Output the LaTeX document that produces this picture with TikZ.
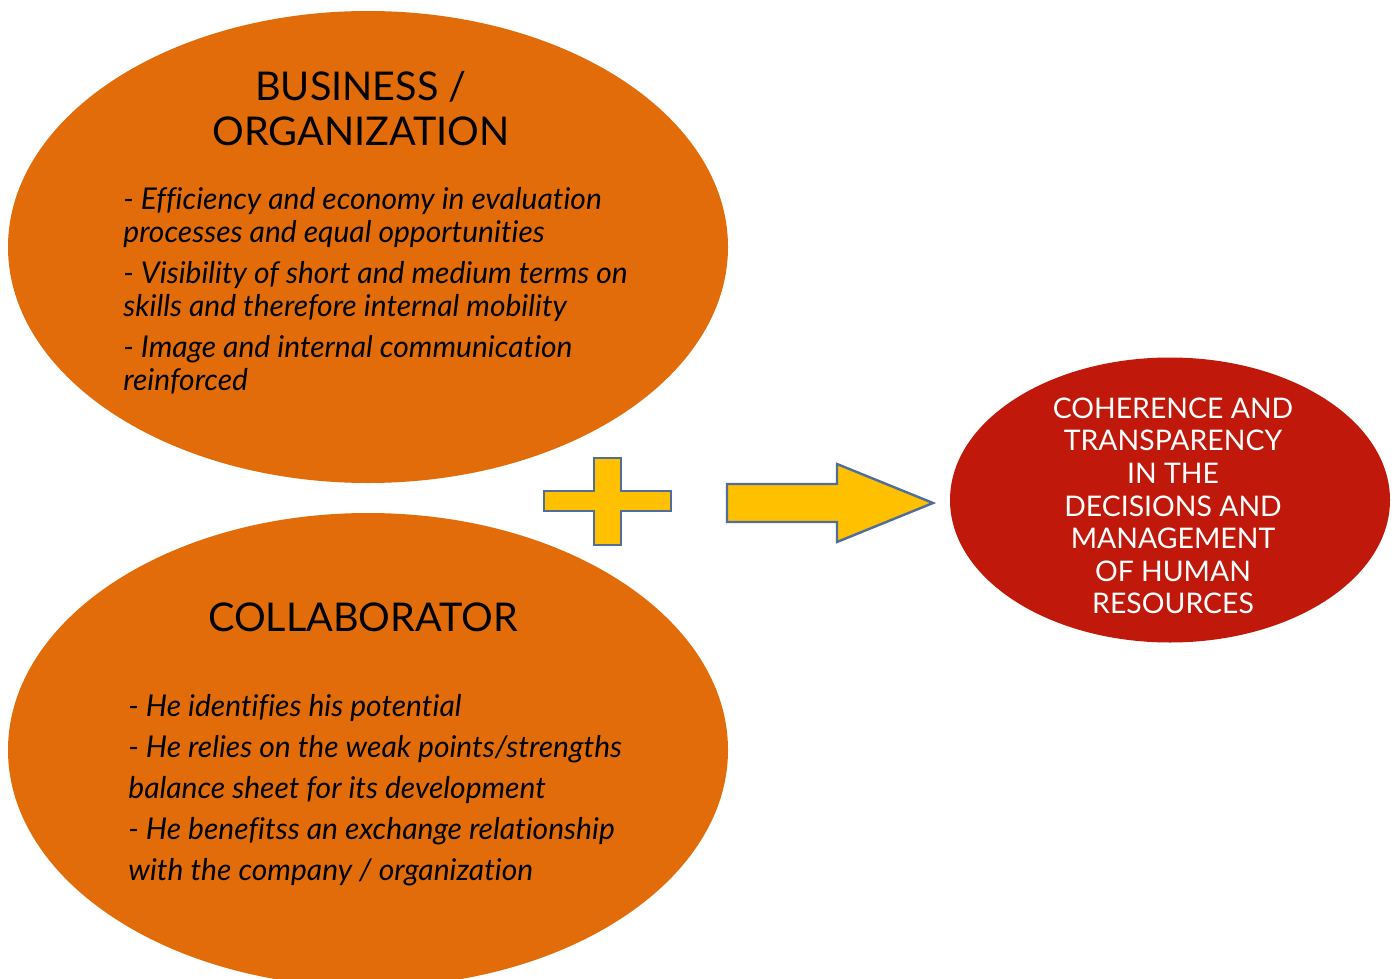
\documentclass[tikz,border=0pt]{standalone}
\usepackage{fontspec}
\setmainfont{Lato}[Ligatures=NoCommon]
\usetikzlibrary{shapes.geometric, positioning}

\definecolor{bloborange}{HTML}{E36C0A}
\definecolor{resultred}{HTML}{C0180A}
\definecolor{signyellow}{HTML}{FFC000}
\definecolor{edgeblue}{HTML}{4F6E99}

\begin{document}
\begin{tikzpicture}[x=0.5pt, y=-0.5pt,
    blob/.style={ellipse, fill=bloborange, inner sep=0pt},
    heading/.style={font=\fontsize{19.8}{22.5}\selectfont, align=center, inner sep=0pt},
    points/.style={font=\fontsize{15}{16.5}\selectfont\itshape, align=left, anchor=north west, inner sep=0pt},
    sign/.style={fill=signyellow, draw=edgeblue, line width=1.2pt, line join=miter}]

    \clip (0,0) rectangle (1397,979);

    % the two orange bubbles and the red result
    \node[blob, minimum width=360pt, minimum height=236pt] (biz) at (368,247) {};
    \node[blob, minimum width=360pt, minimum height=237pt] (collab) at (368,750) {};
    \node[ellipse, fill=resultred, inner sep=0pt, minimum width=220pt, minimum height=142.5pt] (result) at (1170,500) {};

    \node[heading] (bizhead) at (361,109) {BUSINESS /\\ORGANIZATION};
    \node[points] (bizpoints) at (123,187) {%
        - Efficiency and economy in evaluation\\
        processes and equal opportunities\\[4pt]
        - Visibility of short and medium terms on\\
        skills and therefore internal mobility\\[4pt]
        - Image and internal communication\\
        reinforced};

    \node[heading] (collabhead) at (363,617) {COLLABORATOR};
    \node[points, font=\fontsize{15}{20.5}\selectfont\itshape] (collabpoints) at (128,694) {%
        - He identifies his potential\\
        - He relies on the weak points/strengths\\
        balance sheet for its development\\
        - He benefitss an exchange relationship\\
        with the company / organization};

    \node[font=\fontsize{14.2}{16.3}\selectfont, text=white, align=center, inner sep=0pt] (resulttext) at (1173,506) {%
        COHERENCE AND\\TRANSPARENCY\\IN THE\\DECISIONS AND\\MANAGEMENT\\OF HUMAN\\RESOURCES};

    % plus sign
    \draw[sign] (594,458) -- (621,458) -- (621,491) -- (671,491) -- (671,511) -- (621,511)
        -- (621,545) -- (594,545) -- (594,511) -- (544,511) -- (544,491) -- (594,491) -- cycle;

    % block arrow towards the result
    \draw[sign] (727,484) -- (837,484) -- (837,464) -- (933,503) -- (837,542) -- (837,522)
        -- (727,522) -- cycle;
\end{tikzpicture}
\end{document}
